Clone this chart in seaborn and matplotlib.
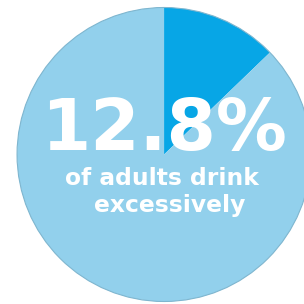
import matplotlib
matplotlib.use("Agg")
import matplotlib.pyplot as plt
import seaborn as sns

# share of adults who drink excessively
labels = ["drink excessively", "others"]
shares = [12.8, 87.2]
headline = "12.8%"
caption_lines = ["of adults drink", "excessively"]

sns.set_style("white")
plt.rcParams['font.family'] = ['DejaVu Sans']

colors = ["#07a6e6", "#92d0ec"]

fig = plt.figure(figsize=(3.04, 3.04), dpi=100)
ax = fig.add_axes([0, 0, 1, 1])
ax.pie(shares, colors=colors, startangle=90, counterclock=False, radius=1.0,
       wedgeprops=dict(linewidth=0))
ax.add_patch(plt.Circle((0, 0), 1.0, fill=False, edgecolor="#7fb6cf", linewidth=0.8))
# pie centre sits right of the middle, the right edge runs off the picture
ax.set_xlim(-1.116, 0.952)
ax.set_ylim(-1.017, 1.051)
ax.set_aspect("auto")
ax.axis("off")

ax.text(0.0, 0.165, headline, ha="center", va="center", color="white",
        fontsize=51, fontweight="bold")
ax.text(-0.012, -0.165, caption_lines[0], ha="center", va="center", color="white",
        fontsize=16.8, fontweight="bold")
ax.text(0.035, -0.35, caption_lines[1], ha="center", va="center", color="white",
        fontsize=16.8, fontweight="bold")

fig.savefig("out.png", dpi=100)
